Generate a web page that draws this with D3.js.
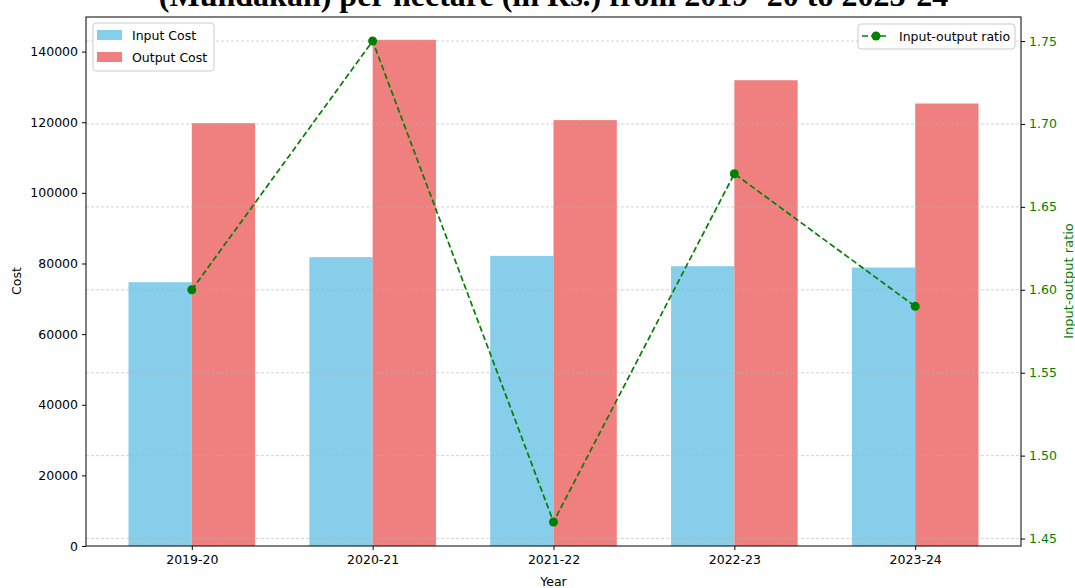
<!DOCTYPE html>
<html><head><meta charset="utf-8">
<script src="https://cdn.jsdelivr.net/npm/d3@7"></script>
<style>body{margin:0;background:#fff}svg{display:block}</style>
</head><body>
<svg id="c" width="1075" height="588"></svg>
<script>
const years = ["2019-20","2020-21","2021-22","2022-23","2023-24"];
const inputCost = [74700, 81800, 82150, 79240, 78840];
const outputCost = [119750, 143340, 120600, 131900, 125300];
const ratio = [1.60, 1.75, 1.46, 1.67, 1.59];
const costTicks = [0,20000,40000,60000,80000,100000,120000,140000];
const ratioTicks = [1.45,1.50,1.55,1.60,1.65,1.70,1.75];
const costMax = 149800;
const ratioDomain = [1.4455, 1.7645];

const svg = d3.select("#c");
const L=86, R=1021, T=17, B=546;
const font = "DejaVu Sans, sans-serif";
const x = d3.scaleLinear().domain([-0.585, 4.585]).range([L,R]);
const y = d3.scaleLinear().domain([0,costMax]).range([B,T]);
const y2 = d3.scaleLinear().domain(ratioDomain).range([B,T]);
const bw = 0.35;

// bars
svg.append("g").selectAll("rect").data(inputCost).join("rect")
  .attr("x",(d,i)=>x(i-bw)).attr("width",x(bw)-x(0))
  .attr("y",d=>y(d)).attr("height",d=>B-y(d)).attr("fill","#87CEEB");
svg.append("g").selectAll("rect").data(outputCost).join("rect")
  .attr("x",(d,i)=>x(i)).attr("width",x(bw)-x(0))
  .attr("y",d=>y(d)).attr("height",d=>B-y(d)).attr("fill","#F08080");

// grid (right axis)
svg.append("g").selectAll("line").data(ratioTicks).join("line")
  .attr("x1",L).attr("x2",R).attr("y1",d=>y2(d)).attr("y2",d=>y2(d))
  .attr("stroke","#b0b0b0").attr("stroke-opacity",0.7).attr("stroke-width",0.8)
  .attr("stroke-dasharray","3,2");

// axes
const ga = svg.append("g").attr("transform",`translate(${L},0)`)
  .call(d3.axisLeft(y).tickValues(costTicks).tickFormat(d3.format("d")).tickSize(4).tickPadding(4));
const gb = svg.append("g").attr("transform",`translate(0,${B})`)
  .call(d3.axisBottom(x).tickValues(d3.range(years.length)).tickFormat(i=>years[i]).tickSize(4).tickPadding(5));
const gr = svg.append("g").attr("transform",`translate(${R},0)`)
  .call(d3.axisRight(y2).tickValues(ratioTicks).tickFormat(d3.format(".2f")).tickSize(4).tickPadding(4));
[ga,gb,gr].forEach(g=>{
  g.select(".domain").remove();
  g.selectAll("text").attr("font-family",font).attr("font-size",12.5).attr("fill","#000");
  g.selectAll("line").attr("stroke","#000");
});
gr.selectAll("text").attr("fill","#008000");

svg.append("rect").attr("x",L).attr("y",T).attr("width",R-L).attr("height",B-T)
  .attr("fill","none").attr("stroke","#000").attr("stroke-width",1);

// ratio line
const line = d3.line().x((d,i)=>x(i)).y(d=>y2(d));
svg.append("path").datum(ratio).attr("d",line).attr("fill","none")
  .attr("stroke","#008000").attr("stroke-width",1.7).attr("stroke-dasharray","6,3");
svg.append("g").selectAll("circle").data(ratio).join("circle")
  .attr("cx",(d,i)=>x(i)).attr("cy",d=>y2(d)).attr("r",4.5).attr("fill","#008000");

// labels
svg.append("text").attr("transform","translate(21,281) rotate(-90)").attr("text-anchor","middle")
  .attr("font-family",font).attr("font-size",12.5).text("Cost");
svg.append("text").attr("x",(L+R)/2).attr("y",586).attr("text-anchor","middle")
  .attr("font-family",font).attr("font-size",12.5).text("Year");
svg.append("text").attr("transform","translate(1073,281) rotate(-90)").attr("text-anchor","middle")
  .attr("font-family",font).attr("font-size",13).attr("fill","#008000").text("Input-output ratio");

// title
svg.append("text").attr("x",(L+R)/2).attr("y",6).attr("text-anchor","middle")
  .attr("font-family","Liberation Serif, serif").attr("font-weight","bold").attr("font-size",32)
  .text("(Mundakan) per hectare (in Rs.) from 2019 -20 to 2023-24");

// legend left
const lg = svg.append("g");
lg.append("rect").attr("x",93).attr("y",23).attr("width",121).attr("height",48).attr("rx",3)
  .attr("fill","#fff").attr("fill-opacity",0.8).attr("stroke","#ccc");
[["Input Cost","#87CEEB"],["Output Cost","#F08080"]].forEach((d,i)=>{
  lg.append("rect").attr("x",97).attr("y",30+i*22).attr("width",25).attr("height",10).attr("fill",d[1]);
  lg.append("text").attr("x",132).attr("y",40+i*22).attr("font-family",font).attr("font-size",12.5).text(d[0]);
});
// legend right
const rg = svg.append("g");
rg.append("rect").attr("x",858).attr("y",24).attr("width",157).attr("height",25).attr("rx",3)
  .attr("fill","#fff").attr("fill-opacity",0.8).attr("stroke","#ccc");
rg.append("line").attr("x1",862).attr("x2",889).attr("y1",36).attr("y2",36)
  .attr("stroke","#008000").attr("stroke-width",1.7).attr("stroke-dasharray","6,3");
rg.append("circle").attr("cx",876).attr("cy",36).attr("r",4.5).attr("fill","#008000");
rg.append("text").attr("x",899).attr("y",41).attr("font-family",font).attr("font-size",12.5).text("Input-output ratio");
</script>
</body></html>
